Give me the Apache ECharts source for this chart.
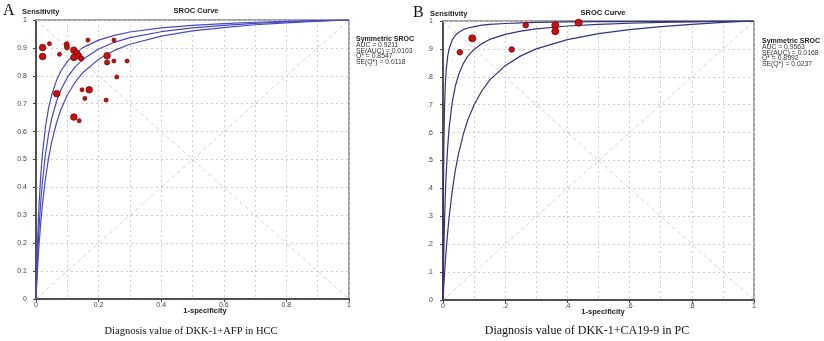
<!DOCTYPE html>
<html>
<head>
<meta charset="utf-8">
<script src="https://cdn.jsdelivr.net/npm/echarts@6/dist/echarts.min.js"></script>
<style>
  html, body { margin: 0; padding: 0; background: #fff; }
  #main { width: 824px; height: 341px; }
</style>
</head>
<body>
<div id="main"></div>
<script>
// ---- panel A: DKK-1+AFP in HCC, one entry per study ----
const hccFpr    = [0.021, 0.021, 0.043, 0.075, 0.098, 0.099, 0.121, 0.130, 0.121, 0.136, 0.145, 0.166, 0.249,
                   0.227, 0.227, 0.249, 0.291, 0.258, 0.066, 0.147, 0.170, 0.156, 0.224, 0.121, 0.138];
const hccSens   = [0.901, 0.869, 0.915, 0.877, 0.913, 0.902, 0.892, 0.880, 0.866, 0.871, 0.862, 0.928, 0.928,
                   0.872, 0.848, 0.853, 0.853, 0.796, 0.736, 0.750, 0.750, 0.719, 0.713, 0.652, 0.639];
const hccWeight = [3, 3, 1, 1, 2, 2, 3, 3, 3, 3, 2, 1, 1, 3, 2, 1, 1, 1, 3, 1, 3, 1, 1, 3, 1];

// SROC curve + bands
const hccCurveFpr = [0, 0.0005, 0.001, 0.002, 0.003, 0.005, 0.0075, 0.01, 0.015, 0.02, 0.03, 0.04, 0.05, 0.065,
                     0.08, 0.1, 0.125, 0.15, 0.2, 0.25, 0.3, 0.4, 0.5, 0.6, 0.7, 0.8, 0.9, 1];
const hccUpper    = [0, 0.025, 0.049, 0.094, 0.134, 0.206, 0.281, 0.343, 0.440, 0.513, 0.615, 0.683, 0.731, 0.782,
                     0.818, 0.851, 0.881, 0.901, 0.928, 0.945, 0.957, 0.972, 0.981, 0.987, 0.992, 0.995, 0.998, 1];
const hccMid      = [0, 0.017, 0.034, 0.065, 0.094, 0.148, 0.207, 0.259, 0.345, 0.414, 0.517, 0.590, 0.646, 0.706,
                     0.751, 0.794, 0.832, 0.859, 0.896, 0.920, 0.937, 0.958, 0.972, 0.981, 0.988, 0.993, 0.997, 1];
const hccLower    = [0, 0.012, 0.024, 0.047, 0.068, 0.109, 0.156, 0.198, 0.271, 0.332, 0.430, 0.504, 0.562, 0.629,
                     0.680, 0.731, 0.777, 0.812, 0.859, 0.891, 0.913, 0.942, 0.961, 0.973, 0.983, 0.990, 0.996, 1];
const hccStats    = ['AUC = 0.9211', 'SE(AUC) = 0.0103', 'Q* = 0.8547', 'SE(Q*) = 0.0118'];

// ---- panel B: DKK-1+CA19-9 in PC ----
const pcFpr    = [0.054, 0.094, 0.221, 0.266, 0.361, 0.361, 0.436];
const pcSens   = [0.888, 0.938, 0.898, 0.985, 0.985, 0.963, 0.994];
const pcWeight = [2, 3, 2, 2, 3, 3, 3];

const pcCurveFpr = [0, 0.0002, 0.0005, 0.001, 0.002, 0.003, 0.005, 0.0075, 0.01, 0.015, 0.02, 0.03, 0.04, 0.05,
                    0.065, 0.08, 0.1, 0.125, 0.15, 0.2, 0.25, 0.3, 0.4, 0.5, 0.6, 0.7, 0.8, 0.9, 1];
const pcUpper    = [0, 0.083, 0.184, 0.310, 0.474, 0.575, 0.693, 0.773, 0.820, 0.873, 0.902, 0.933, 0.949, 0.959,
                    0.969, 0.975, 0.980, 0.985, 0.988, 0.991, 0.993, 0.995, 0.997, 0.998, 0.998, 0.999, 0.999, 1.0, 1];
const pcMid      = [0, 0.016, 0.038, 0.074, 0.138, 0.193, 0.286, 0.376, 0.446, 0.548, 0.619, 0.711, 0.768, 0.807,
                    0.847, 0.874, 0.898, 0.919, 0.934, 0.952, 0.964, 0.972, 0.982, 0.988, 0.992, 0.995, 0.997, 0.999, 1];
const pcLower    = [0, 0.004, 0.010, 0.021, 0.040, 0.059, 0.095, 0.137, 0.175, 0.242, 0.300, 0.394, 0.467, 0.525,
                    0.593, 0.646, 0.700, 0.750, 0.788, 0.840, 0.875, 0.900, 0.933, 0.955, 0.969, 0.980, 0.988, 0.995, 1];
const pcStats    = ['AUC = 0.9563', 'SE(AUC) = 0.0168', 'Q* = 0.8992', 'SE(Q*) = 0.0237'];

// reference diagonals
const diagUp   = [[0, 0], [1, 1]];
const diagDown = [[0, 1], [1, 0]];

const zip = (xs, ys) => xs.map((x, i) => [x, ys[i]]);
const pts = (xs, ys, ws) => xs.map((x, i) => [x, ys[i], ws[i]]);

const sansFont = 'Liberation Sans, Arial, sans-serif';
const serifFont = 'Liberation Serif, Times New Roman, serif';
const gridLine = { color: '#cdcdcd', type: [2, 3], width: 1 };

function fmtLong(v) {
  return String(+v.toFixed(1));
}
function fmtShort(v) {
  let s = String(+v.toFixed(1));
  return s.indexOf('0.') === 0 ? s.slice(1) : s;
}

function xAxisFor(gridIndex, fmt) {
  return {
    gridIndex: gridIndex, type: 'value', min: 0, max: 1, interval: 0.2,
    axisLine: { onZero: false, lineStyle: { color: '#333', width: 1.5 } },
    axisTick: { length: 3, lineStyle: { color: '#444' } },
    axisLabel: { fontSize: 7, color: '#444', margin: 3, fontFamily: sansFont, formatter: fmt },
    splitLine: { show: true, lineStyle: gridLine },
    minorTick: { show: false, splitNumber: 2 },
    minorSplitLine: { show: true, lineStyle: gridLine }
  };
}
function yAxisFor(gridIndex, fmt, margin) {
  return {
    gridIndex: gridIndex, type: 'value', min: 0, max: 1, interval: 0.1,
    axisLine: { onZero: false, lineStyle: { color: '#333', width: 1.5 } },
    axisTick: { length: 3, lineStyle: { color: '#444' } },
    axisLabel: { fontSize: 7, color: '#444', margin: margin, fontFamily: sansFont, formatter: fmt },
    splitLine: { show: true, lineStyle: gridLine }
  };
}

function curve(idx, data, color) {
  return {
    type: 'line', xAxisIndex: idx, yAxisIndex: idx, data: data,
    symbol: 'none', smooth: false, silent: true,
    lineStyle: { color: color, width: 1.2 }, z: 3
  };
}
function diag(idx, data) {
  return {
    type: 'line', xAxisIndex: idx, yAxisIndex: idx, data: data,
    symbol: 'none', silent: true,
    lineStyle: { color: '#d2d2d2', type: [4, 3], width: 1 }, z: 2
  };
}
function studies(idx, data, sizes) {
  return {
    type: 'scatter', xAxisIndex: idx, yAxisIndex: idx, data: data,
    symbolSize: function (val) { return sizes[val[2]]; },
    itemStyle: { color: '#cc1010', borderColor: '#700000', borderWidth: 0.8, opacity: 1 },
    z: 5
  };
}

function txt(x, y, text, opts) {
  return {
    type: 'text', x: x, y: y,
    style: Object.assign({
      text: text, fill: '#222', font: '7px ' + sansFont,
      textAlign: 'left', textVerticalAlign: 'middle'
    }, opts || {})
  };
}
function statsBlock(x, y, lines) {
  let out = [txt(x, y, 'Symmetric SROC', { font: 'bold 7px ' + sansFont })];
  lines.forEach((l, i) => out.push(txt(x, y + 5.7 * (i + 1), l, { font: '6.8px ' + sansFont, fill: '#333' })));
  return out;
}

const option = {
  backgroundColor: '#fff',
  animation: false,
  grid: [
    { left: 36, top: 20, width: 313, height: 279, show: true, borderColor: '#444', borderWidth: 1 },
    { left: 443, top: 21, width: 311, height: 279, show: true, borderColor: '#444', borderWidth: 1 }
  ],
  xAxis: [xAxisFor(0, fmtLong), xAxisFor(1, fmtShort)],
  yAxis: [yAxisFor(0, fmtLong, 9), yAxisFor(1, fmtShort, 10)],
  series: [
    diag(0, diagUp), diag(0, diagDown),
    curve(0, zip(hccCurveFpr, hccUpper), '#4848c4'),
    curve(0, zip(hccCurveFpr, hccMid), '#4848c4'),
    curve(0, zip(hccCurveFpr, hccLower), '#4848c4'),
    studies(0, pts(hccFpr, hccSens, hccWeight), { 1: 4, 2: 5, 3: 6.5 }),

    diag(1, diagUp), diag(1, diagDown),
    curve(1, zip(pcCurveFpr, pcUpper), '#33337f'),
    curve(1, zip(pcCurveFpr, pcMid), '#33337f'),
    curve(1, zip(pcCurveFpr, pcLower), '#33337f'),
    studies(1, pts(pcFpr, pcSens, pcWeight), { 1: 4, 2: 5.5, 3: 7 })
  ],
  graphic: [
    txt(3, 11, 'A', { font: '16px ' + serifFont, fill: '#111' }),
    txt(413, 13, 'B', { font: '16px ' + serifFont, fill: '#111' }),

    txt(22, 12, 'Sensitivity', { font: 'bold 7.5px ' + sansFont }),
    txt(196, 11, 'SROC Curve', { font: 'bold 7.5px ' + sansFont, textAlign: 'center' }),
    txt(205, 311, '1-specificity', { font: 'bold 7.5px ' + sansFont, textAlign: 'center' }),

    txt(430, 14, 'Sensitivity', { font: 'bold 7.5px ' + sansFont }),
    txt(603, 13, 'SROC Curve', { font: 'bold 7.5px ' + sansFont, textAlign: 'center' }),
    txt(603, 312, '1-specificity', { font: 'bold 7.5px ' + sansFont, textAlign: 'center' }),

    txt(191, 331, 'Diagnosis value of DKK-1+AFP in HCC', { font: '10.5px ' + serifFont, fill: '#111', textAlign: 'center' }),
    txt(587, 331, 'Diagnosis value of DKK-1+CA19-9 in PC', { font: '12px ' + serifFont, fill: '#111', textAlign: 'center' })
  ].concat(statsBlock(356, 39.5, hccStats), statsBlock(762, 41.5, pcStats))
};

const chart = echarts.init(document.getElementById('main'));
chart.setOption(option);
</script>
</body>
</html>
